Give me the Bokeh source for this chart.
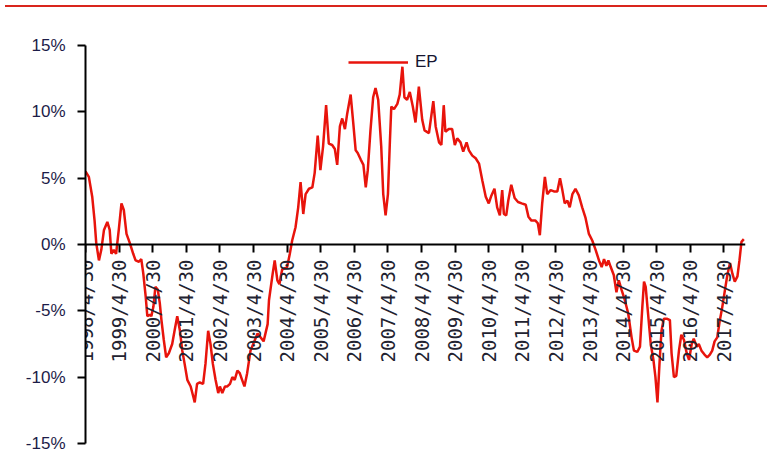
import math
from bokeh.plotting import figure
from bokeh.models import FixedTicker, PrintfTickFormatter, Legend, LegendItem, Div, Range1d
from bokeh.layouts import column
from bokeh.embed import file_html
from bokeh.resources import INLINE

# x tick labels (April 30 of each year) and their decimal-year positions
TICK_LABELS = ["%d/4/30" % y for y in range(1998, 2018)]
TICK_YEARS = [y + 0.33 for y in range(1998, 2018)]
Y_TICKS = [-15, -10, -5, 0, 5, 10, 15]

# EP series: decimal year, value in %
EP_YEAR = [
    1998.33, 1998.43, 1998.53, 1998.60, 1998.65, 1998.73, 1998.80, 1998.88, 1998.98, 1999.05,
    1999.10, 1999.17, 1999.24, 1999.32, 1999.40, 1999.47, 1999.55, 1999.65, 1999.75, 1999.82,
    1999.92, 1999.99, 2000.05, 2000.12, 2000.17, 2000.24, 2000.29, 2000.35, 2000.41, 2000.48,
    2000.54, 2000.59, 2000.66, 2000.73, 2000.81, 2000.91, 2000.98, 2001.06, 2001.14, 2001.21,
    2001.28, 2001.36, 2001.46, 2001.54, 2001.58, 2001.65, 2001.73, 2001.83, 2001.90, 2001.98,
    2002.05, 2002.12, 2002.20, 2002.28, 2002.33, 2002.40, 2002.48, 2002.55, 2002.63, 2002.70,
    2002.77, 2002.85, 2002.92, 2002.99, 2003.06, 2003.14, 2003.24, 2003.45, 2003.63, 2003.75,
    2003.79, 2003.90, 2003.96, 2004.04, 2004.10, 2004.18, 2004.33, 2004.41, 2004.48, 2004.58,
    2004.66, 2004.73, 2004.81, 2004.88, 2004.98, 2005.08, 2005.15, 2005.24, 2005.32, 2005.40,
    2005.49, 2005.57, 2005.67, 2005.75, 2005.82, 2005.90, 2005.97, 2006.05, 2006.12, 2006.22,
    2006.30, 2006.37, 2006.43, 2006.52, 2006.60, 2006.67, 2006.73, 2006.81, 2006.89, 2006.96,
    2007.04, 2007.13, 2007.19, 2007.26, 2007.33, 2007.39, 2007.43, 2007.51, 2007.61, 2007.68,
    2007.76, 2007.82, 2007.90, 2007.98, 2008.07, 2008.15, 2008.25, 2008.35, 2008.42, 2008.55,
    2008.68, 2008.75, 2008.85, 2008.92, 2008.99, 2009.04, 2009.14, 2009.24, 2009.32, 2009.39,
    2009.49, 2009.57, 2009.67, 2009.74, 2009.84, 2009.94, 2010.04, 2010.14, 2010.24, 2010.33,
    2010.41, 2010.50, 2010.58, 2010.66, 2010.73, 2010.78, 2010.85, 2010.91, 2011.00, 2011.10,
    2011.20, 2011.31, 2011.43, 2011.51, 2011.60, 2011.72, 2011.79, 2011.85, 2011.92, 2012.00,
    2012.07, 2012.17, 2012.27, 2012.37, 2012.45, 2012.52, 2012.59, 2012.67, 2012.74, 2012.82,
    2012.91, 2013.01, 2013.11, 2013.21, 2013.31, 2013.41, 2013.51, 2013.61, 2013.69, 2013.76,
    2013.83, 2013.89, 2013.96, 2014.05, 2014.13, 2014.20, 2014.28, 2014.38, 2014.48, 2014.58,
    2014.65, 2014.75, 2014.83, 2014.90, 2014.95, 2015.00, 2015.07, 2015.15, 2015.23, 2015.29,
    2015.35, 2015.41, 2015.47, 2015.54, 2015.64, 2015.72, 2015.77, 2015.84, 2015.91, 2015.99,
    2016.06, 2016.14, 2016.22, 2016.29, 2016.37, 2016.43, 2016.52, 2016.58, 2016.66, 2016.75,
    2016.83, 2016.91, 2016.98, 2017.05, 2017.13, 2017.20, 2017.28, 2017.36, 2017.43, 2017.51,
    2017.58, 2017.65, 2017.73, 2017.79, 2017.85, 2017.92,
]
EP_VALUE = [
    5.5, 5.1, 3.6, 1.8, 0.1, -1.2, -0.4, 1.1, 1.7, 1.1,
    -0.7, -0.4, -0.7, 1.1, 3.1, 2.6, 0.8, 0.1, -0.7, -1.2,
    -1.3, -1.1, -2.2, -3.9, -5.4, -5.3, -5.4, -4.7, -3.2, -3.4,
    -4.4, -5.7, -7.2, -8.5, -8.2, -7.5, -6.5, -5.4, -6.5, -8.0,
    -9.0, -10.2, -10.7, -11.5, -11.9, -10.5, -10.4, -10.5, -9.0, -6.5,
    -7.5, -9.0, -10.2, -11.2, -10.7, -11.2, -10.7, -10.7, -10.5, -10.0,
    -10.2, -9.5, -9.7, -10.2, -10.7, -9.7, -8.0, -6.7, -7.3, -6.0,
    -4.2, -2.2, -1.2, -2.7, -3.0, -1.9, -1.7, -0.7, 0.3, 1.3,
    2.8, 4.7, 2.3, 3.8, 4.2, 4.3, 5.4, 8.2, 5.6, 7.4,
    10.5, 7.6, 7.5, 7.2, 6.0, 8.9, 9.5, 8.7, 9.9, 11.3,
    9.1, 7.1, 6.9, 6.4, 6.0, 4.3, 5.6, 8.6, 11.1, 11.8,
    10.9, 7.4, 3.8, 2.2, 3.8, 7.9, 10.4, 10.2, 10.6, 11.3,
    13.4, 11.1, 10.9, 11.5, 10.4, 9.2, 11.9, 9.4, 8.6, 8.4,
    10.8, 8.9, 7.7, 7.5, 10.5, 8.5, 8.7, 8.7, 7.5, 8.0,
    7.7, 7.0, 7.7, 7.1, 6.7, 6.5, 6.1, 4.8, 3.6, 3.1,
    3.7, 4.2, 2.8, 2.2, 4.1, 2.3, 2.2, 3.3, 4.5, 3.5,
    3.2, 3.1, 3.0, 2.1, 1.8, 1.8, 1.6, 0.7, 3.1, 5.1,
    3.8, 4.1, 4.0, 4.0, 5.0, 4.1, 3.1, 3.3, 2.8, 3.8,
    4.2, 3.7, 2.8, 2.0, 0.8, 0.3, -0.4, -1.2, -1.7, -1.1,
    -1.6, -1.2, -1.7, -2.3, -3.6, -2.7, -3.4, -4.2, -5.2, -7.0,
    -8.0, -8.1, -7.7, -4.7, -2.8, -3.2, -5.2, -7.5, -8.7, -10.0,
    -11.9, -9.0, -6.5, -5.6, -5.6, -5.7, -8.2, -10.0, -9.9, -8.0,
    -6.8, -7.2, -8.2, -8.7, -7.5, -7.1, -7.7, -7.5, -8.0, -8.3,
    -8.5, -8.3, -8.0, -7.3, -7.0, -5.8, -4.7, -3.4, -2.3, -1.4,
    -2.2, -2.8, -2.4, -1.2, 0.2, 0.4,
]

LINE_COLOR = "#e8140c"
TEXT_COLOR = "#1c1c48"

p = figure(width=762, height=458, output_backend="svg", toolbar_location=None,
           x_range=Range1d(1998.33, 2017.97), y_range=Range1d(-15, 15),
           min_border_left=85, min_border_right=17, min_border_top=33, min_border_bottom=27)
p.outline_line_color = None
p.xgrid.visible = False
p.ygrid.visible = False
p.background_fill_color = "white"
p.border_fill_color = "white"

r = p.line(EP_YEAR, EP_VALUE, line_color=LINE_COLOR, line_width=2.5)

xa = p.xaxis[0]
xa.fixed_location = 0
xa.ticker = FixedTicker(ticks=TICK_YEARS)
xa.major_label_overrides = {t: lab for t, lab in zip(TICK_YEARS, TICK_LABELS)}
xa.major_label_orientation = math.pi / 2
xa.major_label_text_font = "DejaVu Sans Mono"
xa.major_label_text_font_size = "19px"
xa.major_label_text_color = "#222230"
xa.major_label_standoff = 7
xa.axis_line_width = 2
xa.axis_line_color = "black"
xa.major_tick_line_width = 2
xa.major_tick_out = 8
xa.major_tick_in = 0
xa.minor_tick_line_color = None

ya = p.yaxis[0]
ya.ticker = FixedTicker(ticks=Y_TICKS)
ya.formatter = PrintfTickFormatter(format="%d%%")
ya.major_label_text_font = "Liberation Sans"
ya.major_label_text_font_size = "17px"
ya.major_label_text_color = TEXT_COLOR
ya.major_label_standoff = 12
ya.axis_line_width = 2
ya.axis_line_color = "black"
ya.major_tick_line_width = 2
ya.major_tick_out = 8
ya.major_tick_in = 0
ya.minor_tick_line_color = None

legend = Legend(items=[LegendItem(label="EP", renderers=[r])], location=(263, 371),
                padding=0, margin=0, spacing=0, glyph_width=60, glyph_height=20,
                label_height=20, label_standoff=7,
                label_text_font="Liberation Sans", label_text_font_size="17px",
                label_text_color="#151530",
                border_line_alpha=0, background_fill_alpha=0)
p.add_layout(legend)

top_bar = Div(text="", width=762, height=2, styles={"background-color": "#d9251d"})
layout = column(top_bar, p, spacing=0)

open("out.html", "w").write(file_html(layout, INLINE))
